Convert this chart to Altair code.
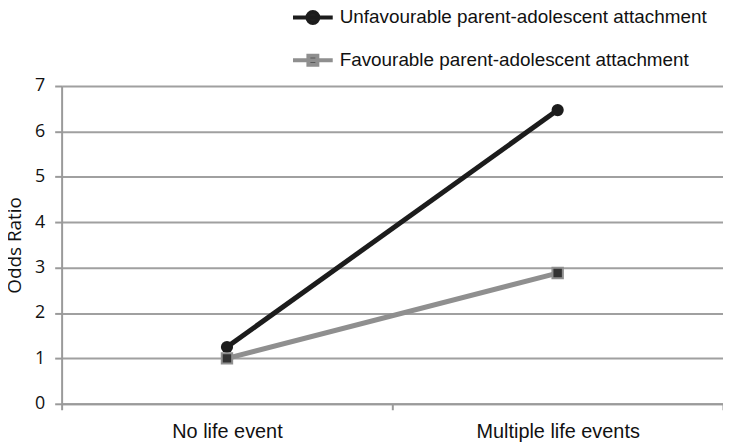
import altair as alt
import pandas as pd

categories = ["No life event", "Multiple life events"]
series = ["Unfavourable parent-adolescent attachment", "Favourable parent-adolescent attachment"]
unfavourable = [1.25, 6.47]
favourable = [1.0, 2.88]

rows = []
for s, vals in zip(series, [unfavourable, favourable]):
    for c, v in zip(categories, vals):
        rows.append({"Category": c, "Series": s, "Odds Ratio": v})
df = pd.DataFrame(rows)

line_colors = ["#1c1c1c", "#8f8f8f"]
circle_path = "M-2,0L2,0M0.55,0A0.55,0.55,0,1,1,-0.55,0A0.55,0.55,0,1,1,0.55,0Z"
square_path = "M-2,0L2,0M-0.45,-0.45L0.45,-0.45L0.45,0.45L-0.45,0.45Z"

x = alt.X("Category:N", sort=categories, title=None,
          scale=alt.Scale(paddingInner=0, paddingOuter=0),
          axis=alt.Axis(labelAngle=0, labelFont="Liberation Sans", labelFontSize=20,
                        labelColor="#111", labelPadding=12, domainColor="#9a9a9a",
                        domainWidth=2, tickColor="#9a9a9a", tickWidth=2, tickSize=6,
                        tickBand="extent", grid=False))
y = alt.Y("Odds Ratio:Q", title="Odds Ratio",
          scale=alt.Scale(domain=[0, 7], nice=False),
          axis=alt.Axis(values=[0, 1, 2, 3, 4, 5, 6, 7], labelFont="Open Sans",
                        labelFontSize=18, labelColor="#111", labelPadding=10,
                        titleFont="Open Sans", titleFontSize=19, titleFontWeight="normal",
                        titleColor="#111", titlePadding=10,
                        domainColor="#9a9a9a", domainWidth=2, tickColor="#9a9a9a",
                        tickWidth=2, tickSize=7, grid=True, gridColor="#a0a0a0",
                        gridWidth=2))

def series_data(i):
    return alt.Chart(df).transform_filter(alt.datum.Series == series[i])

line_unfav = series_data(0).mark_line(strokeWidth=5, color=line_colors[0]).encode(x=x, y=y)
line_fav = series_data(1).mark_line(strokeWidth=5, color=line_colors[1]).encode(x=x, y=y)

pts_unfav = series_data(0).mark_point(
    filled=True, opacity=1, shape="circle", size=150, color="#1c1c1c").encode(x=x, y=y)
pts_fav = series_data(1).mark_point(
    filled=True, opacity=1, shape="square", size=110, fill="#333333",
    stroke="#8f8f8f", strokeWidth=2).encode(x=x, y=y)

leg = alt.Legend(title=None, orient="none", legendX=241, legendY=-81,
                 labelFont="Liberation Sans", labelFontSize=19, labelColor="#111",
                 symbolSize=400, symbolStrokeWidth=4, symbolFillColor="#222222",
                 rowPadding=16, labelOffset=15, labelLimit=500)
legend_layer = alt.Chart(df).transform_filter("false").mark_point(
    filled=False, fill="#222222", opacity=1, strokeWidth=4
).encode(
    x=x, y=y,
    color=alt.Color("Series:N", sort=series,
                    scale=alt.Scale(domain=series, range=line_colors), legend=leg),
    shape=alt.Shape("Series:N", sort=series,
                    scale=alt.Scale(domain=series, range=[circle_path, square_path])),
)

chart = alt.layer(line_unfav, line_fav, pts_unfav, pts_fav, legend_layer).properties(
    width=666, height=320,
    autosize=alt.AutoSizeParams(type="none"),
    padding={"left": 54, "top": 77, "right": 0, "bottom": 50},
).configure_view(stroke=None)

chart.save("out.html", embed_options={"renderer": "svg", "actions": False})
